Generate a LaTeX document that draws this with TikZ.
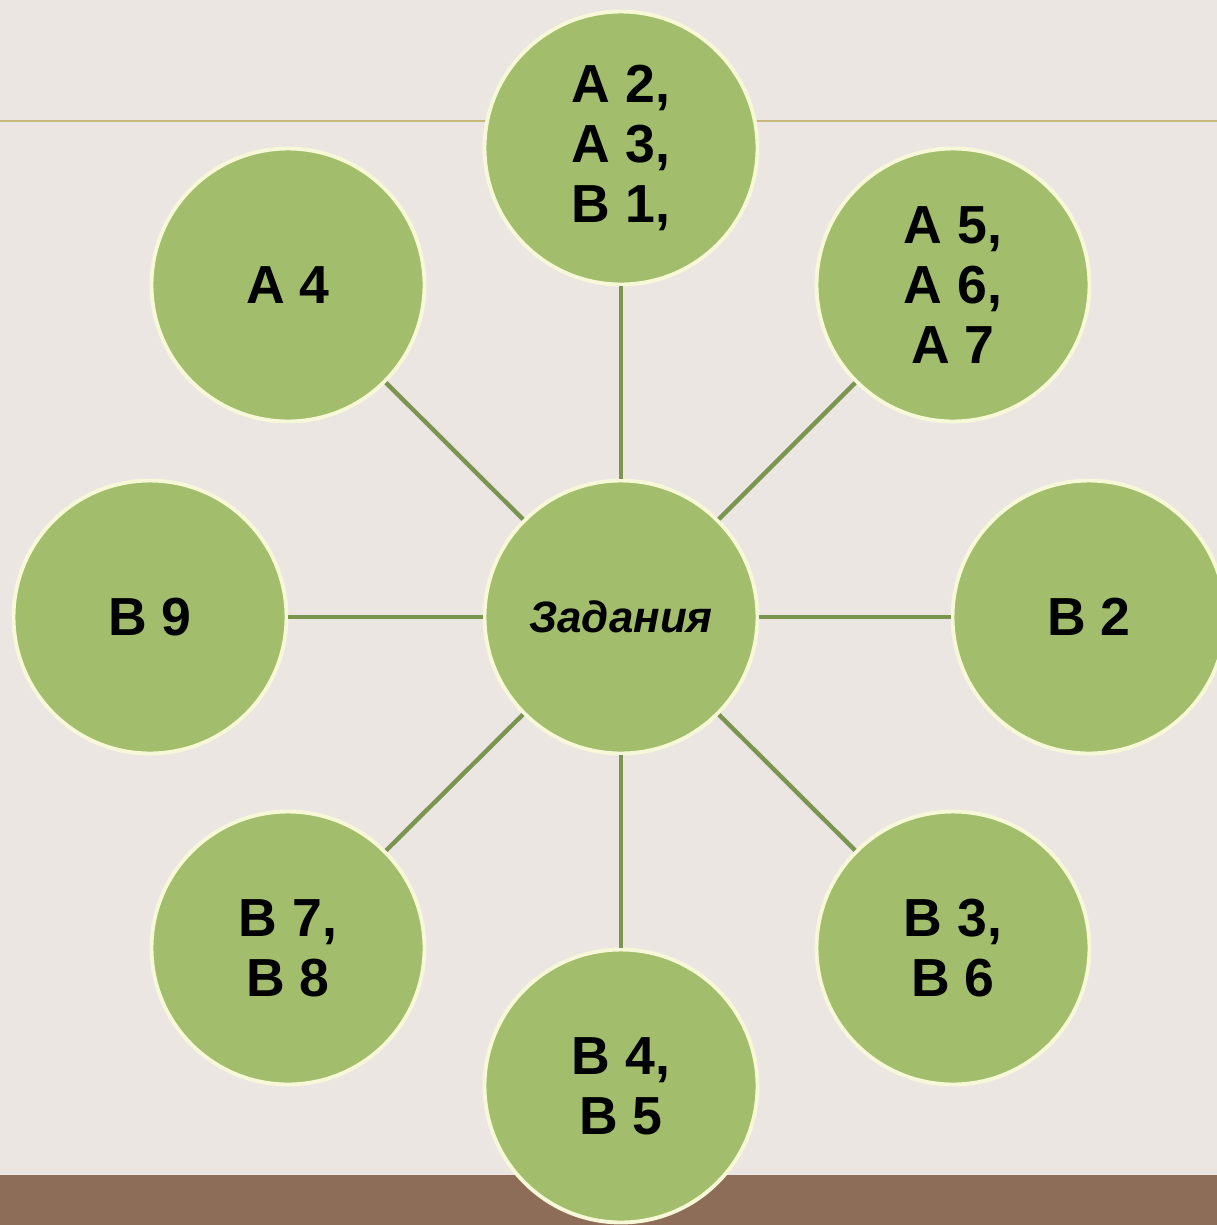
\documentclass[tikz,border=0pt]{standalone}
\usepackage{fontspec}
\setmainfont{Liberation Sans}
\definecolor{bgpaper}{HTML}{EBE6E2}
\definecolor{leafgreen}{HTML}{A2BD6B}
\definecolor{rimcream}{HTML}{F6F8D8}
\definecolor{stemgreen}{HTML}{7A9550}
\definecolor{barbrown}{HTML}{8E6D58}
\definecolor{ruletan}{HTML}{C9B87C}
\tikzset{
  topic/.style={circle, fill=leafgreen, draw=rimcream, line width=2.2pt,
    minimum size=5.46cm, inner sep=0pt, align=center,
    font=\bfseries\fontsize{30.5pt}{34pt}\selectfont},
  hub/.style={topic, font=\bfseries\itshape\fontsize{25pt}{29pt}\selectfont},
  stem/.style={stemgreen, line width=2.5pt}
}
\begin{document}
\begin{tikzpicture}[x=0.02cm, y=-0.02cm]
% Background and frame
\useasboundingbox (0,0) rectangle (1217,1225);
\clip (0,0) rectangle (1217,1225);
\fill[bgpaper] (0,0) rectangle (1217,1225);
\draw[ruletan, line width=1.1pt] (0,121) -- (1217,121);
\fill[barbrown] (0,1175) rectangle (1217,1225);

% Centre
\node[hub] (tasks) at (621,617) {Задания};

% Outer circles
\node[topic] (top) at (621,148) {А 2,\\А 3,\\В 1,};
\node[topic] (topright) at (953,285) {А 5,\\А 6,\\А 7};
\node[topic] (right) at (1089,617) {В 2};
\node[topic] (botright) at (953,948) {В 3,\\В 6};
\node[topic] (bot) at (621,1086) {В 4,\\В 5};
\node[topic] (botleft) at (288,948) {В 7,\\В 8};
\node[topic] (left) at (150,617) {В 9};
\node[topic] (topleft) at (288,285) {А 4};

% Connectors
\draw[stem] (tasks) -- (top);
\draw[stem] (tasks) -- (topright);
\draw[stem] (tasks) -- (right);
\draw[stem] (tasks) -- (botright);
\draw[stem] (tasks) -- (bot);
\draw[stem] (tasks) -- (botleft);
\draw[stem] (tasks) -- (left);
\draw[stem] (tasks) -- (topleft);
\end{tikzpicture}
\end{document}
